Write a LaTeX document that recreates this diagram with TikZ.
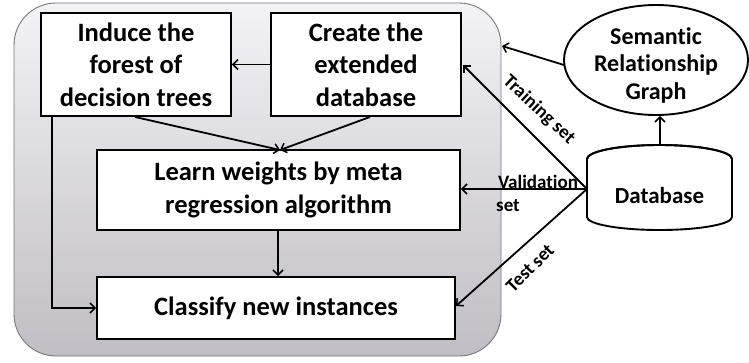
\documentclass[tikz,border=0pt]{standalone}
\usepackage{fontspec}
\setmainfont{Carlito}[Ligatures=NoCommon]
\usetikzlibrary{arrows.meta,shapes.geometric}
\definecolor{bgtop}{RGB}{243,242,245}
\definecolor{bgbot}{RGB}{192,190,196}
\definecolor{bgedge}{RGB}{120,120,120}
\begin{document}
\begin{tikzpicture}[x=1pt,y=-1pt,
  box/.style={draw=black,line width=1.9pt,fill=white,align=center,inner sep=0pt,
    font=\fontsize{26.5}{32.5}\selectfont\bfseries},
  lab/.style={font=\fontsize{19}{21}\selectfont\bfseries,inner sep=0pt},
  arr/.style={line width=1.8pt,-{Straight Barb[length=5pt,width=10pt,line width=1.5pt]}},
  ln/.style={line width=1.8pt}]
\useasboundingbox (0,0) rectangle (749,362);
\shade[top color=bgtop,bottom color=bgbot,draw=bgedge,line width=0.9pt,rounded corners=42pt]
  (14,3) rectangle (501,356);
\node[box,minimum width=190pt,minimum height=103pt] (ind) at (136,64.5) {Induce the\\forest of\\decision trees};
\node[box,minimum width=190pt,minimum height=103pt] (cre) at (366,64.5) {Create the\\extended\\database};
\node[box,minimum width=363pt,minimum height=80pt] (lrn) at (278.5,190) {Learn weights by meta\\regression algorithm};
\node[box,minimum width=358pt,minimum height=62pt] (cls) at (276,308) {Classify new instances};
\node[draw=black,line width=1.9pt,fill=white,ellipse,minimum width=184pt,minimum height=110pt,inner sep=0pt] (srg) at (656,60) {};
\node[align=center,inner sep=0pt,font=\fontsize{24}{27.5}\selectfont\bfseries] (srgt) at (656,65) {Semantic\\Relationship\\Graph};
% cylinder
\draw[line width=1.9pt,fill=white] (587,159) -- (587,217) arc[start angle=180,end angle=360,x radius=72.5pt,y radius=13pt]
  -- (732,159) arc[start angle=0,end angle=180,x radius=72.5pt,y radius=14pt] -- cycle;
\draw[line width=1.9pt] (587,159) arc[start angle=180,end angle=360,x radius=72.5pt,y radius=-14pt];
\node[font=\fontsize{23}{26}\selectfont\bfseries,inner sep=0pt] (db) at (659.5,196) {Database};
\coordinate (dbl) at (587,189);
\coordinate (dbt) at (660,145);
\coordinate (rectedge) at (502,46);
% arrows
\draw[arr] (cre.west) -- (ind.east);
\coordinate (lt) at (280,150);
\draw[arr] (ind.south -| 135,0) -- (lt);
\draw[arr] (cre.south -| 370,0) -- (lt);
\draw[arr] (lrn.south -| 278,0) -- (cls.north -| 278,0);
\draw[arr] (ind.south -| 52,0) |- (cls.west);
\draw[arr] (dbt) -- (srg.south -| dbt);
\draw[arr] (srg.west |- 0,65) ++(1,0) -- (rectedge);
\draw[arr] (dbl) -- (463,65);
\draw[arr] (dbl) -- (lrn.east |- dbl);
\draw[arr] (dbl) -- (456,306);
\node[lab,rotate=-43] (trn) at (539,110) {Training set};
\node[lab] (val) at (538,182) {Validation};
\node[lab] (vset) at (508,206) {set};
\node[lab,rotate=45] (tst) at (530,268) {Test set};
\end{tikzpicture}
\end{document}
